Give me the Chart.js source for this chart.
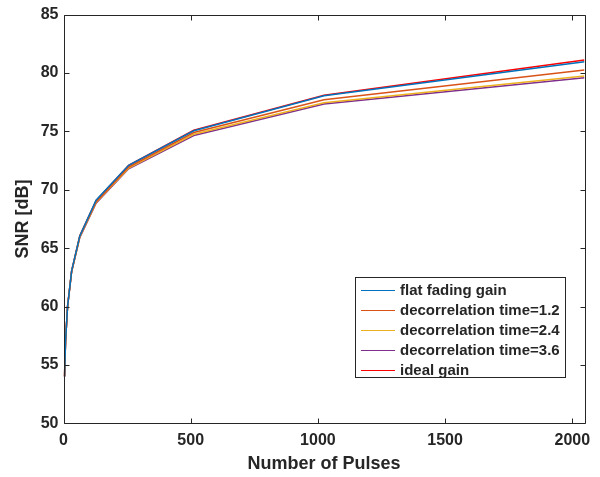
<!DOCTYPE html>
<html>
<head>
<meta charset="utf-8">
<script src="https://cdn.jsdelivr.net/npm/chart.js@4.4.1/dist/chart.umd.min.js"></script>
<style>
  html, body { margin: 0; padding: 0; background: #fff; }
  #wrap { width: 600px; height: 477px; }
</style>
</head>
<body>
<div id="wrap"><canvas id="snrChart" width="600" height="477"></canvas></div>
<script>
// Datos
const pulses = [4, 8, 16, 32, 64, 128, 256, 512, 1024, 2048];
const flatFading = [54.0, 57.0, 60.0, 63.05, 66.05, 69.1, 72.1, 75.05, 78.05, 80.97];
const decorr12 = [54.0, 57.0, 60.0, 63.0, 66.0, 68.95, 71.95, 74.9, 77.7, 80.25];
const decorr24 = [54.0, 57.0, 60.0, 63.0, 65.95, 68.9, 71.85, 74.75, 77.45, 79.75];
const decorr36 = [54.0, 57.0, 60.0, 63.0, 65.9, 68.85, 71.8, 74.65, 77.35, 79.6];
const idealGain = [54.02, 57.03, 60.04, 63.05, 66.06, 69.07, 72.08, 75.09, 78.1, 81.11];

const seriesLabels = ['flat fading gain', 'decorrelation time=1.2', 'decorrelation time=2.4', 'decorrelation time=3.6', 'ideal gain'];
const seriesColors = ['#0072BD', '#D95319', '#EDB120', '#7E2F8E', '#FF0000'];
const xTicks = [0, 500, 1000, 1500, 2000];
const yTicks = [50, 55, 60, 65, 70, 75, 80, 85];

const FONT = '"Liberation Sans", Arial, Helvetica, sans-serif';
const AXIS = '#262626';

function toPoints(ys) {
  return pulses.map((x, i) => ({ x: x, y: ys[i] }));
}

const allSeries = [flatFading, decorr12, decorr24, decorr36, idealGain];
const datasets = allSeries.map((ys, i) => ({
  label: seriesLabels[i],
  data: toPoints(ys),
  borderColor: seriesColors[i],
  backgroundColor: seriesColors[i],
  borderWidth: 1.5,
  pointRadius: 0,
  tension: 0,
  fill: false
}));

// caja de ejes con ticks hacia adentro (estilo MATLAB)
const boxTicks = {
  id: 'boxTicks',
  afterDatasetsDraw(chart) {
    const { ctx, chartArea: a, scales } = chart;
    const L = Math.round(a.left) + 0.5, R = Math.round(a.right) + 0.5;
    const T = Math.round(a.top) + 0.5, B = Math.round(a.bottom) + 0.5;
    ctx.save();
    ctx.strokeStyle = AXIS;
    ctx.lineWidth = 1;
    ctx.beginPath();
    ctx.rect(L, T, R - L, B - T);
    xTicks.forEach(v => {
      const px = Math.round(scales.x.getPixelForValue(v)) + 0.5;
      ctx.moveTo(px, B); ctx.lineTo(px, B - 5);
      ctx.moveTo(px, T); ctx.lineTo(px, T + 5);
    });
    yTicks.forEach(v => {
      const py = Math.round(scales.y.getPixelForValue(v)) + 0.5;
      ctx.moveTo(L, py); ctx.lineTo(L + 5, py);
      ctx.moveTo(R, py); ctx.lineTo(R - 5, py);
    });
    ctx.stroke();
    ctx.restore();
  }
};

// leyenda dentro del area del grafico
const insideLegend = {
  id: 'insideLegend',
  afterDraw(chart) {
    const ctx = chart.ctx;
    const x0 = 355.5, y0 = 277.5, w = 210, h = 100;
    ctx.save();
    ctx.fillStyle = '#fff';
    ctx.fillRect(x0, y0, w, h);
    ctx.strokeStyle = '#262626';
    ctx.lineWidth = 1;
    ctx.strokeRect(x0, y0, w, h);
    ctx.font = 'bold 15px ' + FONT;
    ctx.textBaseline = 'middle';
    ctx.textAlign = 'left';
    chart.data.datasets.forEach((ds, i) => {
      const y = 290 + i * 19.9;
      ctx.strokeStyle = ds.borderColor;
      ctx.lineWidth = 1;
      ctx.beginPath();
      ctx.moveTo(361, Math.round(y) + 0.5);
      ctx.lineTo(395, Math.round(y) + 0.5);
      ctx.stroke();
      ctx.fillStyle = AXIS;
      ctx.fillText(ds.label, 400, y + 1);
    });
    ctx.restore();
  }
};

new Chart(document.getElementById('snrChart'), {
  type: 'line',
  data: { datasets: datasets },
  options: {
    responsive: false,
    animation: false,
    devicePixelRatio: 1,
    layout: { padding: { left: 0, right: 15.5, top: 13.3, bottom: 0 } },
    plugins: { legend: { display: false }, tooltip: { enabled: false } },
    scales: {
      x: {
        type: 'linear',
        min: 0,
        max: 2048,
        grid: { display: false, drawTicks: false },
        border: { display: false },
        afterBuildTicks(scale) { scale.ticks = xTicks.map(v => ({ value: v })); },
        ticks: {
          padding: 8,
          maxRotation: 0,
          autoSkip: false,
          color: AXIS,
          callback: v => String(v),
          font: { family: FONT, size: 16, weight: 'bold' }
        },
        title: {
          display: true,
          text: 'Number of Pulses',
          color: AXIS,
          font: { family: FONT, size: 18, weight: 'bold' },
          padding: { top: 0, bottom: 2 }
        },
        afterFit(scale) { scale.height = 53.7; }
      },
      y: {
        min: 50,
        max: 85,
        grid: { display: false, drawTicks: false },
        border: { display: false },
        afterBuildTicks(scale) { scale.ticks = yTicks.map(v => ({ value: v })); },
        ticks: {
          padding: 5,
          color: AXIS,
          callback: v => String(v),
          font: { family: FONT, size: 16, weight: 'bold' }
        },
        title: {
          display: true,
          text: 'SNR [dB]',
          color: AXIS,
          font: { family: FONT, size: 18, weight: 'bold' },
          padding: { top: 12, bottom: 0 }
        },
        afterFit(scale) { scale.width = 63.5; }
      }
    }
  },
  plugins: [boxTicks, insideLegend]
});
</script>
</body>
</html>
